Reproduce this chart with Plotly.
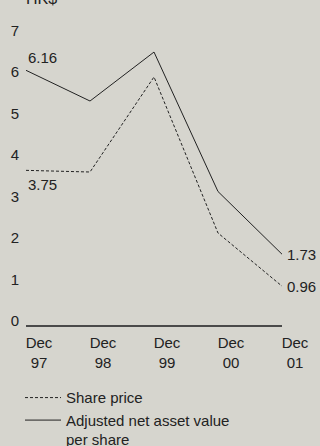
import plotly.graph_objects as go

# Year-end periods and their two-line axis labels
periods = ["Dec 97", "Dec 98", "Dec 99", "Dec 00", "Dec 01"]
period_labels = ["Dec<br>97", "Dec<br>98", "Dec<br>99", "Dec<br>00", "Dec<br>01"]

# HK$ per share
share_price = [3.75, 3.71, 6.00, 2.24, 0.96]
nav_per_share = [6.16, 5.42, 6.60, 3.24, 1.73]

y_ticks = [0, 1, 2, 3, 4, 5, 6, 7]

BG = "#d6d5ce"
INK = "#222222"
FONT = "Liberation Sans, Arial, Helvetica, sans-serif"

x = list(range(len(periods)))

fig = go.Figure()
fig.add_trace(go.Scatter(
    x=x, y=share_price, mode="lines", name="Share price",
    line=dict(color=INK, width=1, dash="3px,2px"),
))
fig.add_trace(go.Scatter(
    x=x, y=nav_per_share, mode="lines",
    name="Adjusted net asset value<br>per share",
    line=dict(color=INK, width=1),
))

# End-point value labels
fig.add_annotation(x=x[0], y=nav_per_share[0], text=f"{nav_per_share[0]:.2f}",
                   xanchor="left", yanchor="bottom", yshift=2, showarrow=False)
fig.add_annotation(x=x[0], y=share_price[0], text=f"{share_price[0]:.2f}",
                   xanchor="left", yanchor="top", yshift=-4, showarrow=False)
fig.add_annotation(x=x[-1], y=nav_per_share[-1], text=f"{nav_per_share[-1]:.2f}",
                   xanchor="left", yanchor="middle", xshift=3, showarrow=False)
fig.add_annotation(x=x[-1], y=share_price[-1], text=f"{share_price[-1]:.2f}",
                   xanchor="left", yanchor="middle", xshift=3, showarrow=False)

# Unit caption above the axis, running off the top edge
fig.add_annotation(x=0, xref="paper", y=1, yref="paper", text="HK$",
                   xanchor="left", yanchor="bottom", yshift=14, xshift=-2,
                   showarrow=False, font=dict(size=16, color=INK))

fig.update_layout(
    width=320, height=446,
    margin=dict(l=26, r=38, t=23, b=120, autoexpand=False),
    paper_bgcolor=BG, plot_bgcolor=BG,
    font=dict(family=FONT, size=15, color=INK),
    showlegend=True,
    legend=dict(xref="container", yref="container", x=0.0625, y=0.145,
                xanchor="left", yanchor="top", itemwidth=36, valign="top",
                bgcolor="rgba(0,0,0,0)", font=dict(size=15, color=INK),
                tracegroupgap=0),
    xaxis=dict(range=[0, 4], tickvals=x, ticktext=period_labels,
               showgrid=False, zeroline=False, showline=False,
               ticks="", ticklabelshift=13, ticklabelstandoff=6,
               fixedrange=True),
    yaxis=dict(range=[0, 7.3], tickvals=y_ticks, showgrid=False,
               zeroline=True, zerolinecolor="#4a4a4a", zerolinewidth=2,
               showline=False, ticks="", ticklabelstandoff=6,
               ticklabelshift=-5, fixedrange=True),
)

fig.write_html("out.html")
